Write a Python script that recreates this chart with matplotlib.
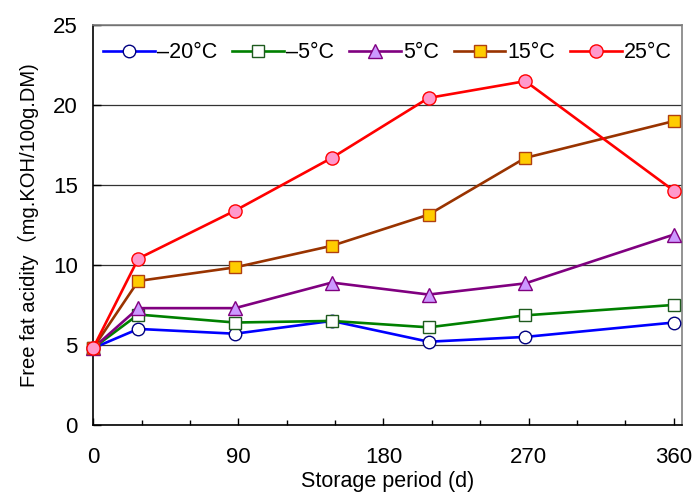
import matplotlib
matplotlib.use('Agg')
import matplotlib.pyplot as plt
from matplotlib.ticker import MultipleLocator

plt.rcParams['font.family'] = ['Liberation Sans', 'Noto Sans CJK SC', 'DejaVu Sans']

# storage days and free fat acidity values
days = [0, 28, 88, 148, 208, 268, 360]
minus20 = [4.8, 6.0, 5.7, 6.5, 5.2, 5.5, 6.4]
minus5 = [4.8, 6.9, 6.4, 6.5, 6.1, 6.85, 7.5]
plus5 = [4.8, 7.3, 7.3, 8.9, 8.15, 8.85, 11.9]
plus15 = [4.8, 9.0, 9.85, 11.2, 13.15, 16.7, 19.0]
plus25 = [4.8, 10.4, 13.4, 16.7, 20.45, 21.5, 14.65]
labels = ['\u201320\u00b0C', '\u20135\u00b0C', '5\u00b0C', '15\u00b0C', '25\u00b0C']

styles = [
    dict(color='#0000ff', marker='o', ms=9, mfc='white', mec='#000080'),
    dict(color='#008000', marker='s', ms=9, mfc='white', mec='#1e5a1e'),
    dict(color='#800080', marker='^', ms=10.5, mfc='#cc99ff', mec='#800080'),
    dict(color='#993300', marker='s', ms=9, mfc='#ffcc00', mec='#b04010'),
    dict(color='#ff0000', marker='o', ms=9.5, mfc='#ff99cc', mec='#ff0000'),
]

fig = plt.figure(figsize=(6.95, 4.94), dpi=100)
ax = fig.add_axes([0.134, 0.140, 0.847, 0.809])

for ys, lab, st in zip([minus20, minus5, plus5, plus15, plus25], labels, styles):
    ax.plot(days, ys, lw=1.9, mew=1.0, label=lab, clip_on=False, zorder=3, **st)

ax.set_xlim(0, 365)
ax.set_ylim(0, 25)
ax.xaxis.set_major_locator(MultipleLocator(90))
ax.xaxis.set_minor_locator(MultipleLocator(30))
ax.yaxis.set_major_locator(MultipleLocator(5))
ax.grid(axis='y', color='#333333', lw=0.9)
ax.set_axisbelow(True)
ax.tick_params(axis='both', which='major', direction='in', length=5, width=1, labelsize=16)
ax.tick_params(axis='x', which='major', pad=16)
ax.tick_params(axis='y', length=6, pad=11)
ax.tick_params(axis='x', which='minor', direction='in', length=3.5, width=1)

for s in ['top', 'right']:
    ax.spines[s].set_color('#808080')
    ax.spines[s].set_linewidth(1.2)
for s in ['left', 'bottom']:
    ax.spines[s].set_color('black')
    ax.spines[s].set_linewidth(1.2)

ax.set_xlabel('Storage period (d)', fontsize=15.5, labelpad=2)
ax.set_ylabel('Free fat acidity\uff08mg.KOH/100g.DM)', fontsize=14.5, labelpad=10)

ax.legend(loc='upper center', ncol=5, frameon=False, fontsize=15.5, handlelength=2.4,
          handletextpad=0.1, columnspacing=0.7, bbox_to_anchor=(0.5, 1.0), borderaxespad=0.4)

fig.savefig('out.png', dpi=100)
